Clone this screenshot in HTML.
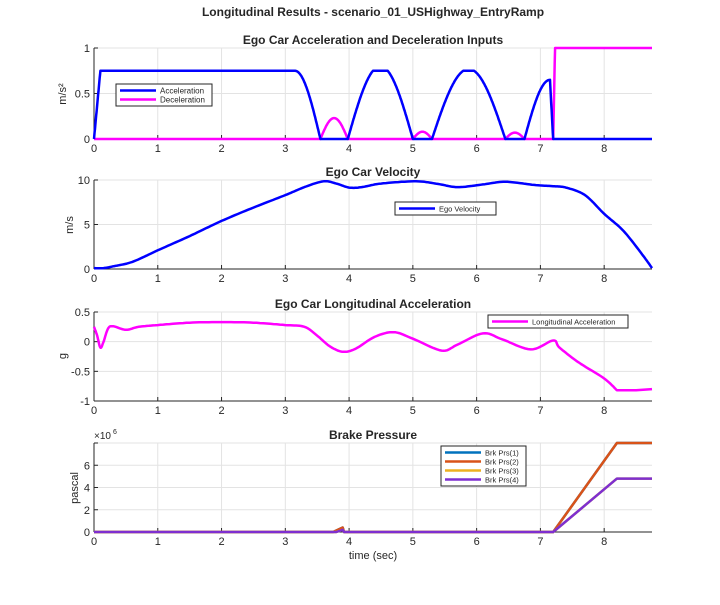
<!DOCTYPE html>
<html><head><meta charset="utf-8"><style>
body{margin:0;background:#fff;}
svg text{font-family:"Liberation Sans",Arial,sans-serif;fill:#262626;}
</style></head><body>
<svg id="s" width="720" height="600" xmlns="http://www.w3.org/2000/svg">
<rect width="720" height="600" fill="#fff"/>
<text x="373" y="16" font-size="12" font-weight="bold" text-anchor="middle">Longitudinal Results - scenario_01_USHighway_EntryRamp</text>
</svg>
<script>
const S=document.getElementById('s');const NS='http://www.w3.org/2000/svg';
function el(t,a,txt){const e=document.createElementNS(NS,t);for(const k in a)e.setAttribute(k,a[k]);if(txt!==undefined)e.textContent=txt;S.appendChild(e);return e;}
const X0=94,X1=652,XM=8.75;
function px(t){return X0+t/XM*(X1-X0);}
function axes(top,bot,ymin,ymax,yt,ylab,title,ylabels){
 const py=v=>bot-(v-ymin)/(ymax-ymin)*(bot-top);
 for(let i=0;i<=8;i++){el('line',{x1:px(i),x2:px(i),y1:top,y2:bot,stroke:'#e3e3e3','stroke-width':1});}
 yt.forEach(v=>el('line',{x1:X0,x2:X1,y1:py(v),y2:py(v),stroke:'#e3e3e3','stroke-width':1}));
 el('line',{x1:X0,x2:X0,y1:top,y2:bot,stroke:'#262626','stroke-width':1});
 el('line',{x1:X0,x2:X1,y1:bot,y2:bot,stroke:'#262626','stroke-width':1});
 for(let i=0;i<=8;i++){el('line',{x1:px(i),x2:px(i),y1:bot,y2:bot-4,stroke:'#262626'});el('text',{x:px(i),y:bot+13,'font-size':11,'text-anchor':'middle'},i);}
 yt.forEach((v,j)=>{el('line',{x1:X0,x2:X0+4,y1:py(v),y2:py(v),stroke:'#262626'});
  const l=ylabels?ylabels[j]:v; if(l!==null) el('text',{x:X0-4,y:py(v)+4,'font-size':11,'text-anchor':'end'},l);});
 el('text',{x:373,y:top-4,'font-size':12,'font-weight':'bold','text-anchor':'middle'},title);
 return py;
}
function spline(pts,n){const out=[];for(let i=0;i<pts.length-1;i++){const p0=pts[Math.max(0,i-1)],p1=pts[i],p2=pts[i+1],p3=pts[Math.min(pts.length-1,i+2)];
 for(let k=0;k<n;k++){const u=k/n;const f=(a,b,c,d)=>0.5*((2*b)+(-a+c)*u+(2*a-5*b+4*c-d)*u*u+(-a+3*b-3*c+d)*u*u*u);out.push([f(p0[0],p1[0],p2[0],p3[0]),f(p0[1],p1[1],p2[1],p3[1])]);}}
 out.push(pts[pts.length-1]);return out;}
function line(pts,py,col,w){el('polyline',{points:pts.map(p=>px(p[0]).toFixed(1)+','+py(p[1]).toFixed(1)).join(' '),fill:'none',stroke:col,'stroke-width':w||2.5,'stroke-linejoin':'round'});}
function legend(x,y,w,items,fs){const h=items.length*9+4;el('rect',{x:x,y:y,width:w,height:h,fill:'#fff',stroke:'#262626','stroke-width':1});
 items.forEach((it,i)=>{const yy=y+6.5+i*9;el('line',{x1:x+4,x2:x+40,y1:yy,y2:yy,stroke:it[1],'stroke-width':2.5});el('text',{x:x+44,y:yy+3,'font-size':fs||8,fill:'#555'},it[0]);});}
// subplot 1
let py=axes(48,139,0,1,[0,0.5,1],'','Ego Car Acceleration and Deceleration Inputs');
const acc=[],dec=[];
for(let t=0;t<=8.75;t+=0.005){let a=0,d=0;
 if(t<0.1)a=7.5*t;else if(t<3.15)a=0.75;else if(t<3.55)a=0.75*Math.cos((t-3.15)/0.4*Math.PI/2);
 else if(t<3.98)d=0.23*Math.sin(Math.PI*(t-3.55)/0.43);
 else if(t<5.0)a=Math.min(0.75,0.8*Math.sin(Math.PI*(t-3.98)/1.02));
 else if(t<5.3)d=0.08*Math.sin(Math.PI*(t-5.0)/0.3);
 else if(t<6.45)a=Math.min(0.75,0.77*Math.sin(Math.PI*(t-5.3)/1.15));
 else if(t<6.75)d=0.07*Math.sin(Math.PI*(t-6.45)/0.3);
 else if(t<7.15)a=0.65*Math.sin(Math.PI/2*(t-6.75)/0.4);
 else if(t<7.2)a=0.65*(7.2-t)/0.05;
 else if(t<7.23)d=(t-7.2)/0.03;else d=1;
 acc.push([t,a]);dec.push([t,Math.min(d,1)]);}
dec.push([8.75,1]);
line(dec,py,'#ff00ff');line(acc,py,'#0000ff');
legend(116,84,96,[['Acceleration','#0000ff'],['Deceleration','#ff00ff']]);
el('text',{x:0,y:0,'font-size':11,transform:'translate(66,94) rotate(-90)','text-anchor':'middle'},'m/s²');
// subplot 2
py=axes(180,269,0,10,[0,5,10],'','Ego Car Velocity');
const v=[[0,0.1],[0.15,0.1],[0.3,0.3],[0.6,0.8],[1,2.1],[1.5,3.7],[2,5.4],[2.5,6.9],[3,8.3],[3.3,9.2],[3.6,9.85],[3.8,9.6],[4.0,9.15],[4.2,9.2],[4.5,9.6],[5.05,9.85],[5.4,9.55],[5.7,9.2],[6.1,9.5],[6.45,9.8],[6.9,9.45],[7.2,9.3],[7.4,9.15],[7.7,8.3],[8,6.2],[8.3,4.3],[8.6,1.6],[8.75,0.1]];
line(spline(v,12),py,'#0000ff');
legend(395,202,101,[['Ego Velocity','#0000ff']],7.5);
el('text',{x:0,y:0,'font-size':11,transform:'translate(73,225) rotate(-90)','text-anchor':'middle'},'m/s');
// subplot 3
py=axes(312,401,-1,0.5,[-1,-0.5,0,0.5],'','Ego Car Longitudinal Acceleration');
const g=[[0,0.25],[0.05,0.1],[0.1,-0.1],[0.15,0.0],[0.22,0.22],[0.3,0.26],[0.5,0.2],[0.7,0.25],[1,0.28],[1.5,0.32],[2,0.33],[2.5,0.32],[3,0.28],[3.3,0.25],[3.5,0.1],[3.7,-0.08],[3.9,-0.17],[4.1,-0.12],[4.4,0.08],[4.7,0.16],[5,0.05],[5.45,-0.15],[5.7,-0.05],[6.1,0.14],[6.4,0.04],[6.85,-0.13],[7.2,0.02],[7.3,-0.1],[7.6,-0.35],[8,-0.62],[8.2,-0.82]];
line(spline(g,10).concat([[8.5,-0.82],[8.75,-0.8]]),py,'#ff00ff');
legend(488,315,140,[['Longitudinal Acceleration','#ff00ff']],7.5);
el('text',{x:0,y:0,'font-size':11,transform:'translate(66,356) rotate(-90)','text-anchor':'middle'},'g');
// subplot 4
py=axes(443,532,0,8,[0,2,4,6,8],'','Brake Pressure',[0,2,4,6,null]);
const o=[[0,0],[3.75,0],[3.9,0.4],[3.92,0],[7.2,0],[8.2,8],[8.75,8]];
const p=[[0,0],[3.8,0],[3.9,0.2],[3.92,0],[7.2,0],[8.2,4.8],[8.75,4.8]];
line(o,py,'#0072bd');line(o,py,'#d95319');line(p,py,'#edb120');line(p,py,'#7e2fd0');
legend(441,446,85,[['Brk Prs(1)','#0072bd'],['Brk Prs(2)','#d95319'],['Brk Prs(3)','#edb120'],['Brk Prs(4)','#7e2fd0']],7.5);
el('text',{x:94,y:439,'font-size':10},'×10');el('text',{x:113,y:434,'font-size':7},'6');
el('text',{x:0,y:0,'font-size':11,transform:'translate(78,488) rotate(-90)','text-anchor':'middle'},'pascal');
el('text',{x:373,y:559,'font-size':11,'text-anchor':'middle'},'time (sec)');
</script>
</body></html>
